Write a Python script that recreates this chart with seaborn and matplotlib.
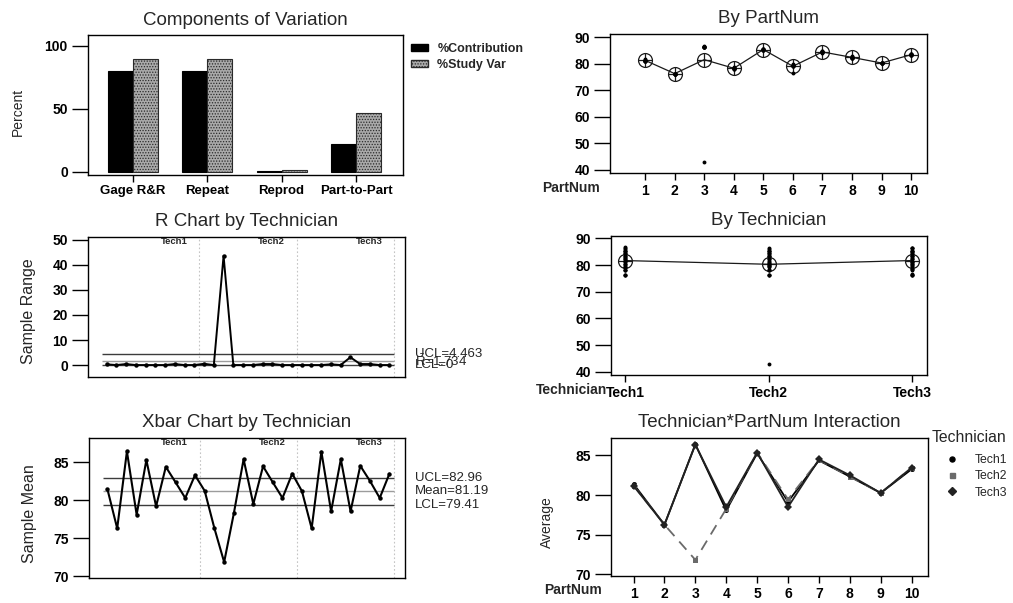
import numpy as np
import pandas as pd
import matplotlib
matplotlib.use("Agg")
import matplotlib.pyplot as plt
import matplotlib.transforms as mtransforms
from matplotlib.lines import Line2D
from matplotlib.patches import Patch
import seaborn as sns

# ---- Gage R&R study: 10 parts x 3 technicians x 3 trials ----
part_nums = [1, 2, 3, 4, 5, 6, 7, 8, 9, 10]
technicians = ["Tech1", "Tech2", "Tech3"]

tech1_trials = [
    [81.2, 81.6, 81.4],
    [76.3, 76.2, 76.3],
    [86.2, 86.7, 86.3],
    [78.1, 78.0, 78.1],
    [85.3, 85.2, 85.3],
    [79.2, 79.1, 79.2],
    [84.4, 84.3, 84.4],
    [82.1, 82.6, 82.3],
    [80.3, 80.2, 80.3],
    [83.3, 83.2, 83.3],
]
tech2_trials = [
    [80.9, 81.5, 81.2],
    [76.3, 76.2, 76.3],
    [42.9, 86.4, 86.2],
    [78.3, 78.2, 78.3],
    [85.4, 85.3, 85.4],
    [79.5, 79.4, 79.5],
    [84.2, 84.7, 84.4],
    [82.1, 82.6, 82.3],
    [80.3, 80.2, 80.3],
    [83.5, 83.4, 83.5],
]
tech3_trials = [
    [81.2, 81.1, 81.2],
    [76.3, 76.2, 76.3],
    [86.4, 86.3, 86.4],
    [78.3, 78.7, 78.5],
    [85.4, 85.3, 85.4],
    [76.6, 79.8, 79.1],
    [84.3, 84.8, 84.4],
    [82.3, 82.8, 82.4],
    [80.3, 80.2, 80.3],
    [83.5, 83.4, 83.5],
]

# ---- Components of variation (percent) ----
sources = ["Gage R&R", "Repeat", "Reprod", "Part-to-Part"]
pct_contribution = [79.8, 79.6, 0.2, 21.8]
pct_study_var = [89.3, 89.2, 1.3, 46.7]

# ---- Control limits ----
r_ucl, r_bar, r_lcl = 4.463, 1.734, 0.0
x_ucl, x_mean, x_lcl = 82.96, 81.19, 79.41

# ---------------------------------------------------------------
sns.set_style("white")
plt.rcParams["font.family"] = ["Liberation Sans", "DejaVu Sans"]
plt.rcParams["mathtext.fontset"] = "custom"
plt.rcParams["mathtext.rm"] = "Liberation Sans"
plt.rcParams["mathtext.default"] = "regular"
plt.rcParams["hatch.linewidth"] = 0.6
plt.rcParams["axes.edgecolor"] = "black"
plt.rcParams["axes.linewidth"] = 1.0

rows = []
for tech, trials in zip(technicians, [tech1_trials, tech2_trials, tech3_trials]):
    for part, vals in zip(part_nums, trials):
        for trial, v in enumerate(vals, start=1):
            rows.append({"Technician": tech, "PartNum": part, "Trial": trial, "Value": v})
df = pd.DataFrame(rows)

cells = df.groupby(["Technician", "PartNum"], sort=True)["Value"]
subgroups = pd.DataFrame({
    "Sample": np.arange(len(cells.mean())),
    "Mean": cells.mean().to_numpy(),
    "Range": (cells.max() - cells.min()).to_numpy(),
})
n_sub = len(subgroups)
n_parts = len(part_nums)

W, H = 1013, 603
fig = plt.figure(figsize=(W / 100, H / 100), dpi=100)


def panel(x0, y0, x1, y1):
    return fig.add_axes([x0 / W, 1 - y1 / H, (x1 - x0) / W, (y1 - y0) / H])


TITLE_FS = 13.5
TICK_FS = 10


def style_axes(ax, xticks=True, xpad=3):
    for s in ax.spines.values():
        s.set_visible(True)
        s.set_color("black")
        s.set_linewidth(1.0)
    ax.tick_params(axis="y", direction="out", length=11.5, width=1.0, pad=3,
                   left=True, labelsize=TICK_FS, colors="black")
    if xticks:
        ax.tick_params(axis="x", direction="out", length=5, width=1.0, pad=xpad,
                       bottom=True, labelsize=TICK_FS, colors="black")
    else:
        ax.tick_params(axis="x", bottom=False, labelbottom=False)
    for lab in ax.get_yticklabels() + ax.get_xticklabels():
        lab.set_fontweight("bold")


# ---------------- Components of Variation ----------------
axA = panel(88, 35, 403, 175)
comp_df = pd.DataFrame({
    "Source": sources * 2,
    "Measure": ["%Contribution"] * len(sources) + ["%Study Var"] * len(sources),
    "Percent": pct_contribution + pct_study_var,
})
sns.barplot(data=comp_df, x="Source", y="Percent", hue="Measure",
            palette=["black", "#a9a9a9"], saturation=1, width=0.67,
            legend=False, ax=axA)
for bar in axA.containers[0]:
    bar.set_edgecolor("black")
    bar.set_linewidth(0.8)
for bar in axA.containers[1]:
    bar.set_edgecolor("#2a2a2a")
    bar.set_hatch("......")
    bar.set_linewidth(0.8)
axA.set_xlim(-0.6, 3.63)
axA.set_ylim(-2.6, 108.5)
axA.set_yticks([0, 50, 100])
axA.set_xlabel("")
axA.set_ylabel("Percent", fontsize=10)
axA.yaxis.set_label_coords(-0.2, 0.45)
axA.set_title("Components of Variation", fontsize=TITLE_FS, pad=7)
style_axes(axA, xpad=2)
for lab in axA.get_xticklabels():
    lab.set_fontsize(9.5)

fig.legend(
    handles=[Patch(facecolor="black", edgecolor="black"),
             Patch(facecolor="#a9a9a9", edgecolor="#2a2a2a", hatch="......")],
    labels=["%Contribution", "%Study Var"],
    loc="upper left", bbox_to_anchor=(411 / W, 1 - 43 / H),
    frameon=False, prop={"size": 9, "weight": "bold"},
    handlelength=1.35, handleheight=0.45, handletextpad=0.75,
    labelspacing=0.3, borderpad=0, borderaxespad=0,
)

# ---------------- By PartNum ----------------
axB = panel(610, 34, 927, 173)
sns.stripplot(data=df, x="PartNum", y="Value", jitter=False, color="black",
              size=2.8, linewidth=0, ax=axB)
sns.pointplot(data=df, x="PartNum", y="Value", errorbar=None, color="#1a1a1a",
              markers="o", linestyles="-", markersize=10, markerfacecolor="none",
              markeredgewidth=0.9, linewidth=0.9, ax=axB)
sns.pointplot(data=df, x="PartNum", y="Value", errorbar=None, color="#1a1a1a",
              markers="+", linestyles="none", markersize=10,
              markeredgewidth=0.9, ax=axB)
axB.set_xlim(-1.19, 9.54)
axB.set_ylim(38.8, 91.2)
axB.set_yticks([40, 50, 60, 70, 80, 90])
axB.set_ylabel("")
axB.set_xlabel("PartNum", fontsize=10, fontweight="bold", ha="right", va="center")
axB.xaxis.set_label_coords(-0.032, -0.108)
axB.set_title("By PartNum", fontsize=TITLE_FS, pad=8)
style_axes(axB)

# ---------------- R Chart by Technician ----------------
axC = panel(88, 237, 405, 377)
sns.lineplot(data=subgroups, x="Sample", y="Range", color="black", linewidth=1.4,
             marker="o", markersize=3.2, markeredgewidth=0, ax=axC)


# Control lines, technician separators and limit labels for the control charts
def control_decor(ax, ucl, center, lcl, labels):
    ax.hlines([ucl, lcl], -0.5, n_sub - 0.5, color="#3c3c3c", linewidth=1.0, zorder=1)
    ax.hlines([center], -0.5, n_sub - 0.5, color="#9c9c9c", linewidth=1.0, zorder=1)
    trans = mtransforms.blended_transform_factory(ax.transData, ax.transAxes)
    for k, tech in enumerate(technicians):
        sep = (k + 1) * n_parts - 0.5
        ax.axvline(sep, color="#c4c4c4", linestyle=(0, (1.5, 2)), linewidth=0.8, zorder=0)
        ax.text(sep - 1.2, 0.965, tech, transform=trans, ha="right", va="center",
                fontsize=6.8, fontweight="bold")
    ytrans = mtransforms.blended_transform_factory(ax.transAxes, ax.transData)
    for val, lab in zip([ucl, center, lcl], labels):
        ax.text(1.032, val, lab, transform=ytrans, ha="left", va="center", fontsize=9.5)


control_decor(axC, r_ucl, r_bar, r_lcl,
              [f"UCL={r_ucl:g}", r"$\bar{R}$" + f"={r_bar:g}", f"LCL={r_lcl:g}"])
axC.set_xlim(-1.9, 30.6)
axC.set_ylim(-4.65, 51.0)
axC.set_yticks([0, 10, 20, 30, 40, 50])
axC.set_xlabel("")
axC.set_ylabel("Sample Range", fontsize=11.5)
axC.yaxis.set_label_coords(-0.165, 0.47)
axC.set_title("R Chart by Technician", fontsize=TITLE_FS, pad=8)
style_axes(axC, xticks=False)

# ---------------- By Technician ----------------
axD = panel(611, 236, 927, 375)
sns.stripplot(data=df, x="Technician", y="Value", jitter=False, color="black",
              size=2.8, linewidth=0, ax=axD)
sns.pointplot(data=df, x="Technician", y="Value", errorbar=None, color="#1a1a1a",
              markers="o", linestyles="-", markersize=10, markerfacecolor="none",
              markeredgewidth=0.9, linewidth=0.9, ax=axD)
sns.pointplot(data=df, x="Technician", y="Value", errorbar=None, color="#1a1a1a",
              markers="+", linestyles="none", markersize=10,
              markeredgewidth=0.9, ax=axD)
axD.set_xlim(-0.10, 2.105)
axD.set_ylim(38.75, 90.9)
axD.set_yticks([40, 50, 60, 70, 80, 90])
axD.set_ylabel("")
axD.set_xlabel("Technician", fontsize=10, fontweight="bold", ha="right", va="center")
axD.xaxis.set_label_coords(-0.012, -0.108)
axD.set_title("By Technician", fontsize=TITLE_FS, pad=8)
style_axes(axD)

# ---------------- Xbar Chart by Technician ----------------
axE = panel(89, 438, 405, 578)
sns.lineplot(data=subgroups, x="Sample", y="Mean", color="black", linewidth=1.5,
             marker="o", markersize=3.2, markeredgewidth=0, ax=axE)
control_decor(axE, x_ucl, x_mean, x_lcl,
              [f"UCL={x_ucl:g}", f"Mean={x_mean:g}", f"LCL={x_lcl:g}"])
axE.set_xlim(-1.9, 30.6)
axE.set_ylim(69.74, 88.16)
axE.set_yticks([70, 75, 80, 85])
axE.set_xlabel("")
axE.set_ylabel("Sample Mean", fontsize=11.5)
axE.yaxis.set_label_coords(-0.165, 0.46)
axE.set_title("Xbar Chart by Technician", fontsize=TITLE_FS, pad=8)
style_axes(axE, xticks=False)

# ---------------- Technician*PartNum Interaction ----------------
axF = panel(611, 438, 928, 576)
tech_markers = {"Tech1": "o", "Tech2": "s", "Tech3": "D"}
tech_dashes = {"Tech1": "", "Tech2": (6, 4), "Tech3": ""}
tech_colors = {"Tech1": "black", "Tech2": "#6a6a6a", "Tech3": "#222222"}
sns.lineplot(data=df, x="PartNum", y="Value", hue="Technician", style="Technician",
             estimator="mean", errorbar=None, markers=tech_markers, dashes=tech_dashes,
             palette=tech_colors, markersize=3.6, markeredgewidth=0, linewidth=1.3,
             legend=False, ax=axF)
axF.set_xlim(0.27, 10.53)
axF.set_ylim(69.8, 87.2)
axF.set_xticks(part_nums)
axF.set_yticks([70, 75, 80, 85])
axF.set_ylabel("Average", fontsize=10)
axF.yaxis.set_label_coords(-0.18, 0.39)
axF.set_xlabel("PartNum", fontsize=10, fontweight="bold", ha="right", va="center")
axF.xaxis.set_label_coords(-0.028, -0.10)
axF.set_title("Technician*PartNum Interaction", fontsize=TITLE_FS, pad=8)
style_axes(axF)

fig.text(932 / W, 1 - 437 / H, "Technician", fontsize=11.3, ha="left", va="center")
fig.legend(
    handles=[Line2D([], [], marker=tech_markers[t], linestyle="none",
                    color=tech_colors[t], markersize=3.6 if t != "Tech3" else 4.2)
             for t in technicians],
    labels=technicians,
    loc="upper left", bbox_to_anchor=(934 / W, 1 - 454 / H),
    frameon=False, prop={"size": 8.8},
    handlelength=2.9, handletextpad=0.4, labelspacing=0.35,
    borderpad=0, borderaxespad=0,
)

fig.savefig("out.png", dpi=100)
